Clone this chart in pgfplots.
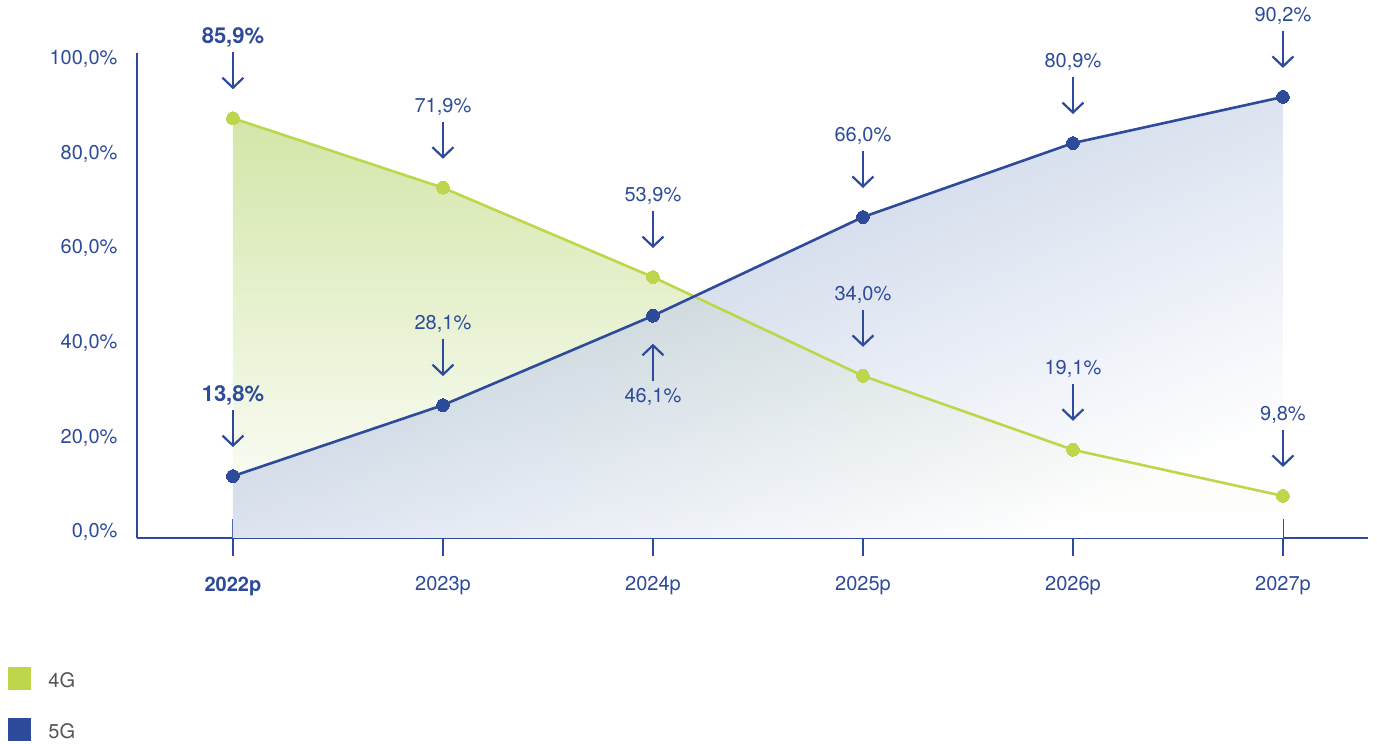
\documentclass[border=0pt]{standalone}
\usepackage{fontspec}
\setmainfont{TeX Gyre Heros}
\usepackage{pgfplots}
\pgfplotsset{compat=1.18}
\usetikzlibrary{arrows.meta}
\definecolor{cb}{HTML}{2E4B9B}
\definecolor{cg}{HTML}{BED64C}
\definecolor{gfill}{HTML}{D3E6A8}
\definecolor{bfill}{HTML}{9EB2D6}
\definecolor{lgray}{HTML}{555555}
\tikzset{
  annot/.style={cb, line width=1.1pt, -{Straight Barb[length=5pt,width=10.5pt]}},
  lab/.style={text=cb, font=\fontsize{10}{12}\selectfont, inner sep=0pt},
}
\newcommand{\downlab}[3]{%
  \draw[annot] ([yshift=33pt]axis cs:#1,#2) -- ([yshift=14.5pt]axis cs:#1,#2);
  \node[lab] at ([yshift=40.5pt]axis cs:#1,#2) {#3};
}
\newcommand{\uplab}[3]{%
  \draw[annot] ([yshift=-32.5pt]axis cs:#1,#2) -- ([yshift=-14pt]axis cs:#1,#2);
  \node[lab] at ([yshift=-40.5pt]axis cs:#1,#2) {#3};
}
\begin{document}
\begin{tikzpicture}
\path[use as bounding box] (0,0) rectangle (688.5pt,372pt);
\begin{axis}[
  at={(68.5pt,103pt)}, anchor=south west,
  scale only axis, width=615.5pt, height=242.5pt,
  xmin=-0.457, xmax=5.405, ymin=1.33, ymax=99.05,
  axis lines=left, axis line style={-, cb, line width=0.8pt},
  clip=false,
  xtick={0,1,2,3,4,5},
  xticklabels={\textbf{2022p},2023p,2024p,2025p,2026p,2027p},
  ytick={2.54,21.6,40.66,59.72,78.78,97.84},
  yticklabels={{0,0\%},{20,0\%},{40,0\%},{60,0\%},{80,0\%},{100,0\%}},
  tick align=center, major tick length=18.5pt,
  xtick style={cb, line width=0.8pt},
  ytick style={draw=none},
  tick label style={text=cb, font=\fontsize{10}{12}\selectfont},
  yticklabel style={xshift=3pt},
  xticklabel style={anchor=north, yshift=-6.5pt},
]
\addplot[draw=none, top color=gfill, bottom color=white, forget plot]
  coordinates {(0,1.33) (0,85.9) (1,71.9) (2,53.9) (3,34.0) (4,19.1) (5,9.8) (5,1.33)} -- cycle;
\addplot[draw=none, fill opacity=0.7, top color=bfill, bottom color=white, shading angle=22.5, forget plot]
  coordinates {(0,1.33) (0,13.8) (1,28.1) (2,46.1) (3,66.0) (4,80.9) (5,90.2) (5,1.33)} -- cycle;
\addplot[cg, line width=1.3pt, mark=*, mark size=3.2pt, mark options={fill=cg, draw=cg, line width=0pt}]
  coordinates {(0,85.9) (1,71.9) (2,53.9) (3,34.0) (4,19.1) (5,9.8)};
\addplot[cb, line width=1.3pt, mark=*, mark size=3.2pt, mark options={fill=cb, draw=cb, line width=0pt}]
  coordinates {(0,13.8) (1,28.1) (2,46.1) (3,66.0) (4,80.9) (5,90.2)};
\downlab{0}{85.9}{\fontsize{11}{13}\selectfont\textbf{85,9\%}}
\downlab{1}{71.9}{71,9\%}
\downlab{2}{53.9}{53,9\%}
\downlab{3}{34.0}{34,0\%}
\downlab{4}{19.1}{19,1\%}
\downlab{5}{9.8}{9,8\%}
\downlab{0}{13.8}{\fontsize{11}{13}\selectfont\textbf{13,8\%}}
\downlab{1}{28.1}{28,1\%}
\uplab{2}{46.1}{46,1\%}
\downlab{3}{66.0}{66,0\%}
\downlab{4}{80.9}{80,9\%}
\downlab{5}{90.2}{90,2\%}
\end{axis}
\fill[cg] (4pt,27pt) rectangle (15.5pt,38.5pt);
\node[anchor=west, inner sep=0pt, text=lgray] at (24pt,32pt) {4G};
\fill[cb] (4pt,1.5pt) rectangle (15.5pt,13pt);
\node[anchor=west, inner sep=0pt, text=lgray] at (24pt,6.5pt) {5G};
\end{tikzpicture}
\end{document}
